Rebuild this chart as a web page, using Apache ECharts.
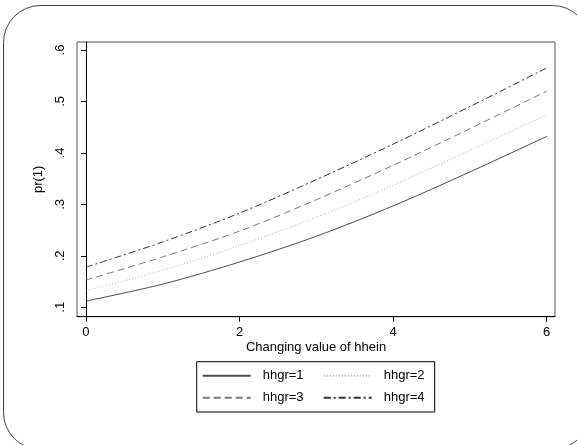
<!DOCTYPE html>
<html>
<head>
<meta charset="utf-8">
<script src="https://cdn.jsdelivr.net/npm/echarts@6/dist/echarts.min.js"></script>
<style>
  html, body { margin: 0; padding: 0; background: #fff; }
  #chart { width: 577px; height: 445px; }
</style>
</head>
<body>
<div id="chart"></div>
<script>
// x values (hhein) and predicted pr(1) for each hhgr group
var xValues = [0, 1, 2, 3, 4, 5, 6];
var hhgr1 = [0.112, 0.145, 0.188, 0.238, 0.297, 0.363, 0.432];
var hhgr2 = [0.132, 0.172, 0.220, 0.275, 0.337, 0.405, 0.474];
var hhgr3 = [0.153, 0.198, 0.248, 0.309, 0.376, 0.447, 0.520];
var hhgr4 = [0.178, 0.227, 0.283, 0.348, 0.417, 0.490, 0.565];
var seriesNames = ['hhgr=1', 'hhgr=2', 'hhgr=3', 'hhgr=4'];
var xTicks = [0, 2, 4, 6];
var yTicks = [0.1, 0.2, 0.3, 0.4, 0.5, 0.6];

var FONT = '"Liberation Sans", Arial, sans-serif';

function pairs(ys) {
  return xValues.map(function (x, i) { return [x, ys[i]]; });
}

// stata-like line looks
var looks = [
  { color: '#4d4d4d', type: 'solid' },
  { color: '#b0b0b0', type: [1, 2] },
  { color: '#7a7a7a', type: [7, 4] },
  { color: '#333333', type: [7, 3, 2, 3] }
];
var allData = [hhgr1, hhgr2, hhgr3, hhgr4];

var series = [];
for (var i = 0; i < allData.length; i++) {
  series.push({
    type: 'line',
    name: seriesNames[i],
    data: pairs(allData[i]),
    smooth: 0.3,
    symbol: 'none',
    animation: false,
    lineStyle: { color: looks[i].color, width: 1, type: looks[i].type },
    itemStyle: { color: looks[i].color, opacity: 0 }
  });
}

var myChart = echarts.init(document.getElementById('chart'), null, { renderer: 'canvas' });
myChart.setOption({
  animation: false,
  backgroundColor: '#fff',
  textStyle: { fontFamily: FONT },
  graphic: [
    { // outer rounded frame
      type: 'rect',
      shape: { x: 3.5, y: 5.5, width: 586, height: 444, r: 37 },
      style: { fill: 'none', stroke: '#444', lineWidth: 1 },
      silent: true,
      z: -1
    }
  ],
  grid: {
    left: 77, top: 42, right: 22, bottom: 128.3,
    show: true, borderColor: '#555', borderWidth: 1, backgroundColor: '#fff'
  },
  legend: {
    data: seriesNames,
    left: 196.7,
    top: 361.7,
    width: 240,
    padding: [7.6, 0, 7.7, 5],
    itemGap: 9,
    itemWidth: 48,
    itemHeight: 10,
    borderColor: '#000',
    borderWidth: 1,
    itemStyle: { opacity: 0 },
    textStyle: {
      fontFamily: FONT, fontSize: 13, color: '#000',
      width: 51, lineHeight: 10, padding: [0, 0, 0, 7]
    }
  },
  xAxis: {
    type: 'value',
    min: -0.117,
    max: 6.108,
    name: 'Changing value of hhein',
    nameLocation: 'middle',
    nameGap: 24,
    nameMoveOverlap: false,
    nameTextStyle: { fontFamily: FONT, fontSize: 13, color: '#000', verticalAlign: 'top' },
    splitLine: { show: false },
    axisLine: { show: true, lineStyle: { color: '#000', width: 1 } },
    axisTick: { show: true, length: 5, customValues: xTicks, lineStyle: { color: '#000' } },
    axisLabel: {
      customValues: xTicks, margin: 9,
      fontFamily: FONT, fontSize: 13, color: '#000'
    }
  },
  yAxis: {
    type: 'value',
    min: 0.0817,
    max: 0.6155,
    name: 'pr(1)',
    nameLocation: 'middle',
    nameGap: 32,
    nameMoveOverlap: false,
    nameTextStyle: { fontFamily: FONT, fontSize: 13, color: '#000' },
    splitLine: { show: false },
    axisLine: { show: true, lineStyle: { color: '#000', width: 1 } },
    axisTick: { show: true, length: 5, customValues: yTicks, lineStyle: { color: '#000' } },
    axisLabel: {
      customValues: yTicks, rotate: 90, margin: 10,
      fontFamily: FONT, fontSize: 13, color: '#000',
      formatter: function (v) { return v.toFixed(1).replace(/^0/, ''); }
    }
  },
  series: series
});
</script>
</body>
</html>
